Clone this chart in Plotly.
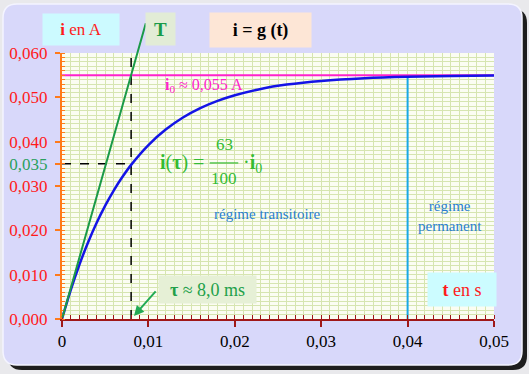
import plotly.graph_objects as go

# ---------------- data ----------------
t_vals = [0, 0.001, 0.002, 0.003, 0.004, 0.005, 0.006, 0.007, 0.008, 0.010, 0.012,
          0.014, 0.016, 0.018, 0.020, 0.023, 0.026, 0.030, 0.035, 0.040, 0.045, 0.050]
i_vals = [0, 0.00646, 0.01217, 0.0172, 0.02164, 0.02556, 0.02902, 0.03207, 0.03477,
          0.03924, 0.04273, 0.04544, 0.04756, 0.0492, 0.05048, 0.0519, 0.05287,
          0.05371, 0.05431, 0.05463, 0.0548, 0.0549]
i0 = 0.055
tau = 0.008
i_tau = 0.035
t_perm = 0.04
i_perm = 0.0546
tangent_end = (0.0097, 0.0667)

x_tickvals = [0, 0.01, 0.02, 0.03, 0.04, 0.05]
x_ticktext = ["0", "0,01", "0,02", "0,03", "0,04", "0,05"]
y_tickvals = [0, 0.01, 0.02, 0.03, 0.035, 0.04, 0.05, 0.06]
y_ticktext = ["0,000", "0,010", "0,020", "0,030", "0,035", "0,040", "0,050", "0,060"]

# ---------------- style ----------------
W, H = 529, 374
ML, MR, MT, MB = 62, 35, 53, 55
PW, PH = W - ML - MR, H - MT - MB
SERIF = "Liberation Serif, Times New Roman, DejaVu Serif, serif"
GRID = "#d6e5b0"
RED = "#ff1a1a"
GREEN_T = "#1a9a48"
GREEN_F = "#33bb33"
BLUE_TXT = "#2a7fd0"
MAGENTA = "#ff22cc"


def px(xp, yp):
    return (xp - ML) / PW, (H - MB - yp) / PH


def rrect(x0, y0, x1, y1, r):
    def P(a, b):
        u, v = px(a, b)
        return f"{u:.5f},{v:.5f}"
    s = f"M {P(x0 + r, y0)} L {P(x1 - r, y0)} Q {P(x1, y0)} {P(x1, y0 + r)} "
    s += f"L {P(x1, y1 - r)} Q {P(x1, y1)} {P(x1 - r, y1)} "
    s += f"L {P(x0 + r, y1)} Q {P(x0, y1)} {P(x0, y1 - r)} "
    s += f"L {P(x0, y0 + r)} Q {P(x0, y0)} {P(x0 + r, y0)} Z"
    return s


fig = go.Figure()

fig.add_trace(go.Scatter(x=[tau, tau], y=[0, 0.06], mode="lines",
                         line=dict(color="black", width=1.5, dash="dash"), hoverinfo="skip"))
fig.add_trace(go.Scatter(x=[0, tau], y=[i_tau, i_tau], mode="lines",
                         line=dict(color="black", width=1.5, dash="dash"), hoverinfo="skip"))
fig.add_trace(go.Scatter(x=[0, 0.05], y=[i0, i0], mode="lines",
                         line=dict(color=MAGENTA, width=2), hoverinfo="skip"))
fig.add_trace(go.Scatter(x=[t_perm, t_perm], y=[0, i_perm], mode="lines",
                         line=dict(color="#19a8e6", width=2), hoverinfo="skip"))
fig.add_trace(go.Scatter(x=t_vals, y=i_vals, mode="lines", line_shape="spline",
                         line=dict(color="#1414e6", width=2.5), hoverinfo="skip"))

shapes = [
    dict(type="path", xref="paper", yref="paper", path=rrect(8, 9, 527, 370, 14),
         fillcolor="#1e1e1e", line=dict(width=0), layer="below"),
    dict(type="path", xref="paper", yref="paper", path=rrect(3, 4, 522, 365, 14),
         fillcolor="#d8d8fa", line=dict(color="#f4f4ff", width=1.5), layer="below"),
    dict(type="rect", xref="paper", yref="paper", x0=0, x1=1, y0=0, y1=1,
         fillcolor="#fbfdf2", line=dict(width=0), layer="below"),
    dict(type="line", xref="x", yref="y", x0=0.0171, x1=0.0204, y0=0.0352, y1=0.0352,
         line=dict(color=GREEN_F, width=1.2)),
]

ann = []
ann.append(dict(x=tangent_end[0], y=tangent_end[1], ax=0, ay=0, axref="x", ayref="y",
                xref="x", yref="y", text="", showarrow=True, arrowhead=0,
                arrowwidth=2, arrowcolor=GREEN_T, standoff=0, startstandoff=0))
ann.append(dict(x=0, y=0.0612, ax=0, ay=14, xref="x", yref="y", text="", showarrow=True,
                arrowhead=2, arrowsize=1, arrowwidth=2, arrowcolor="#ff7a1a", standoff=0))
ann.append(dict(x=0.0502, y=0, ax=-14, ay=0, xref="x", yref="y", text="", showarrow=True,
                arrowhead=2, arrowsize=1, arrowwidth=2, arrowcolor="#a01818", standoff=0))
ann.append(dict(x=0.00833, y=0.0007, ax=23, ay=-26, xref="x", yref="y", text="",
                showarrow=True, arrowhead=2, arrowsize=1, arrowwidth=2,
                arrowcolor="#22aa55", standoff=0))


def box_px(cx, cy, text, bg, w, h, color="black", size=16):
    u, v = px(cx, cy)
    ann.append(dict(x=u, y=v, xref="paper", yref="paper", xanchor="center", yanchor="middle",
                    text=text, showarrow=False,
                    bgcolor=bg, width=w, height=h, align="center", valign="middle",
                    font=dict(family=SERIF, size=size, color=color)))


def box(x, y, text, bg, w, h, color="black", size=16):
    ann.append(dict(x=x, y=y, xref="x", yref="y", xanchor="center", yanchor="middle",
                    text=text, showarrow=False,
                    bgcolor=bg, width=w, height=h, align="center", valign="middle",
                    font=dict(family=SERIF, size=size, color=color)))


def txt(x, y, text, color, size=15):
    ann.append(dict(x=x, y=y, xref="x", yref="y", xanchor="center", yanchor="middle",
                    text=text, showarrow=False,
                    font=dict(family=SERIF, size=size, color=color)))


box_px(81, 29.5, "<b>i</b> en A", "#ccfaff", 74, 29, RED, 17)
box_px(160.5, 29, "<b>T</b>", "#e2ecd6", 27, 30, GREEN_T, 19)
box_px(260.5, 30, "<b>i = g (t)</b>", "#fde6d6", 99, 32, "black", 18)
box(0.01684, 0.00665, "<b>τ</b> ≈ 8,0 ms", "#e6f0d6", 95, 25, "#22a04a", 18)
box(0.0463, 0.00665, "<b>t</b> en s", "#ccfcff", 66, 31, RED, 18)

txt(0.01638, 0.0527, "<b>i</b><sub>0</sub> ≈ 0,055 A", MAGENTA, 16)
txt(0.0139, 0.0352, "<b>i</b>(<b>τ</b>) =", GREEN_F, 20)
txt(0.01875, 0.03925, "63", GREEN_F, 17)
txt(0.01875, 0.0316, "100", GREEN_F, 17)
txt(0.0221, 0.0350, "·<b>i</b><sub>0</sub>", GREEN_F, 20)
txt(0.02373, 0.0237, "régime transitoire", BLUE_TXT, 15)
txt(0.04491, 0.0232, "régime<br>permanent", BLUE_TXT, 15)

y_text_col = [("<span style='color:#2aa060'>%s</span>" % s) if v == i_tau else s
              for v, s in zip(y_tickvals, y_ticktext)]

fig.update_layout(
    width=W, height=H,
    margin=dict(l=ML, r=MR, t=MT, b=MB, autoexpand=False),
    paper_bgcolor="#e9e9ec",
    plot_bgcolor="rgba(0,0,0,0)",
    showlegend=False,
    shapes=shapes,
    annotations=ann,
    xaxis=dict(range=[0, 0.05], tickvals=x_tickvals, ticktext=x_ticktext,
               automargin=False,
               showline=True, linecolor="#a01818", linewidth=2,
               ticks="outside", ticklen=6, tickwidth=1.5, tickcolor="#a01818",
               tickfont=dict(family=SERIF, size=17, color="black"),
               showgrid=True, gridcolor=GRID, gridwidth=1, zeroline=False,
               minor=dict(dtick=0.001, tick0=0, ticks="inside", ticklen=4,
                          tickcolor="#a01818", tickwidth=1,
                          showgrid=True, gridcolor=GRID, gridwidth=1)),
    yaxis=dict(range=[0, 0.06], tickvals=y_tickvals, ticktext=y_text_col,
               automargin=False, ticklabelstandoff=4,
               showline=True, linecolor="#ff7a1a", linewidth=2,
               ticks="outside", ticklen=5, tickwidth=1.5, tickcolor="#ff7a1a",
               tickfont=dict(family=SERIF, size=17, color=RED),
               showgrid=True, gridcolor=GRID, gridwidth=1, zeroline=False,
               minor=dict(dtick=0.001, tick0=0, ticks="inside", ticklen=3,
                          tickcolor="#ff7a1a", tickwidth=1,
                          showgrid=True, gridcolor=GRID, gridwidth=1)),
)

fig.write_html("out.html", config={"displayModeBar": False},
               post_script="document.body.style.margin='0';")
